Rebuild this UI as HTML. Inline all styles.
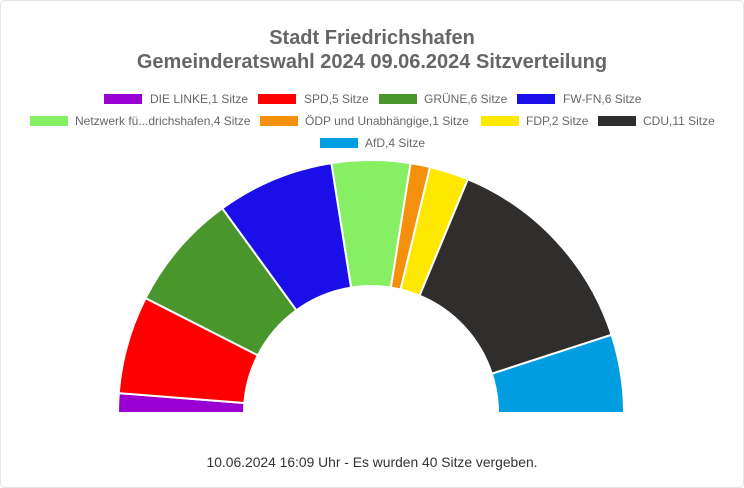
<!DOCTYPE html>
<html><head><meta charset="utf-8"><style>
body{margin:0;background:#fff}
svg{display:block}
text{font-family:"Liberation Sans",sans-serif}
</style></head><body>
<svg id="s" width="744" height="488" xmlns="http://www.w3.org/2000/svg">
<rect x="0.5" y="0.5" width="743" height="487" rx="4" fill="#fff" stroke="#e6e6e6"/>
<text x="372" y="44" text-anchor="middle" font-size="20" font-weight="bold" fill="#666">Stadt Friedrichshafen</text>
<text x="372" y="68" text-anchor="middle" font-size="20" font-weight="bold" fill="#666">Gemeinderatswahl 2024 09.06.2024 Sitzverteilung</text>
<g font-size="12" fill="#666">
<rect x="104" y="94" width="38" height="10" fill="#9b00d3"/><text x="150" y="103">DIE LINKE,1 Sitze</text>
<rect x="258" y="94" width="38" height="10" fill="#ff0000"/><text x="304" y="103">SPD,5 Sitze</text>
<rect x="379" y="94" width="38" height="10" fill="#48962c"/><text x="424" y="103">GRÜNE,6 Sitze</text>
<rect x="517" y="94" width="38" height="10" fill="#1a0fe9"/><text x="563" y="103">FW-FN,6 Sitze</text>
<rect x="30" y="116" width="38" height="10" fill="#86ef63"/><text x="75" y="125">Netzwerk fü...drichshafen,4 Sitze</text>
<rect x="260" y="116" width="38" height="10" fill="#f5900d"/><text x="305" y="125">ÖDP und Unabhängige,1 Sitze</text>
<rect x="481" y="116" width="38" height="10" fill="#ffe800"/><text x="526" y="125">FDP,2 Sitze</text>
<rect x="598" y="116" width="38" height="10" fill="#302e2c"/><text x="643" y="125">CDU,11 Sitze</text>
<rect x="320" y="138" width="38" height="10" fill="#009ee0"/><text x="365" y="147">AfD,4 Sitze</text>
</g>
<g id="arcs"></g>
<text x="372" y="467" text-anchor="middle" font-size="14" fill="#333" font-family="DejaVu Sans" textLength="331" lengthAdjust="spacingAndGlyphs">10.06.2024 16:09 Uhr - Es wurden 40 Sitze vergeben.</text>
</svg>
<script>
var d=[[1,"#9b00d3"],[5,"#ff0000"],[6,"#48962c"],[6,"#1a0fe9"],[4,"#86ef63"],[1,"#f5900d"],[2,"#ffe800"],[11,"#302e2c"],[4,"#009ee0"]];
var cx=371,cy=413,R=253,r=127,k=0,g=document.getElementById("arcs"),h="";
function p(a,rr){var t=a*Math.PI/180;return (cx+rr*Math.cos(t)).toFixed(2)+","+(cy-rr*Math.sin(t)).toFixed(2);}
d.forEach(function(x){var a1=180-4.5*k,a2=180-4.5*(k+x[0]);k+=x[0];
h+='<path d="M'+p(a1,R)+' A'+R+','+R+' 0 0 1 '+p(a2,R)+' L'+p(a2,r)+' A'+r+','+r+' 0 0 0 '+p(a1,r)+' Z" fill="'+x[1]+'" stroke="#fff" stroke-width="2"/>';});
g.innerHTML=h;
</script>
</body></html>
